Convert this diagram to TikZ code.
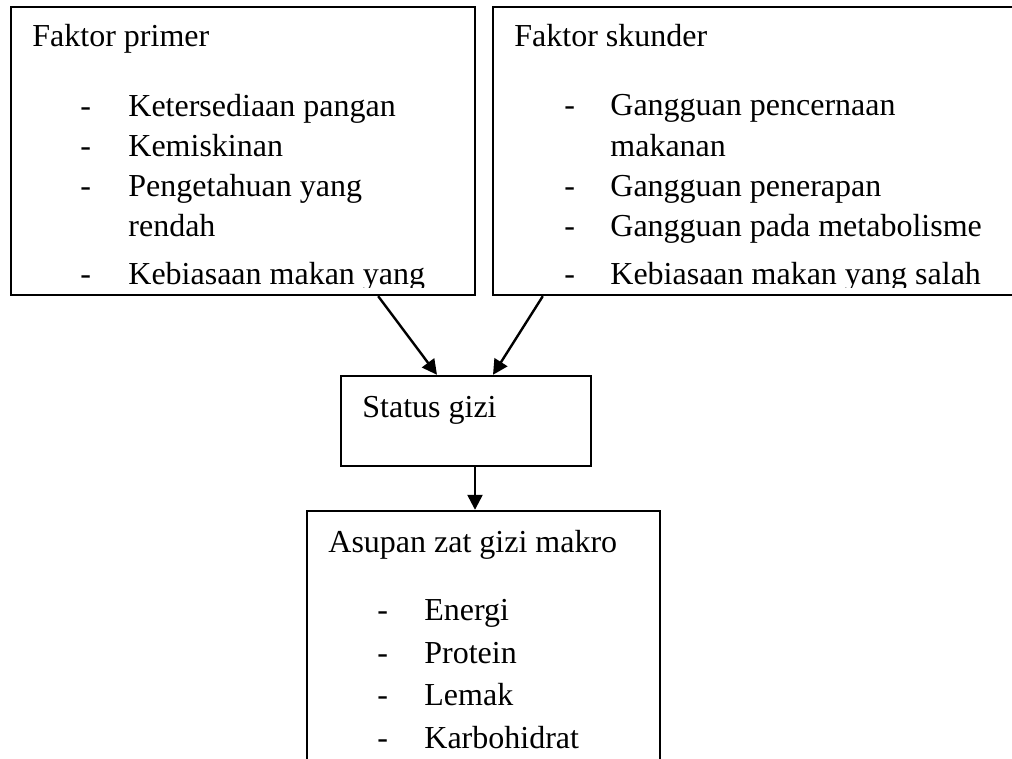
\documentclass[tikz,border=0pt]{standalone}
\usepackage{fontspec}
\setmainfont{Liberation Serif}
\usetikzlibrary{arrows.meta, positioning, calc}

\begin{document}
\begin{tikzpicture}[
    x=0.5pt, y=-0.5pt,
    font=\fontsize{16}{19}\selectfont,
    box/.style={draw, rectangle, line width=1.2pt, inner sep=0pt},
    txt/.style={anchor=base west, inner sep=0pt},
    arrow/.style={-{Triangle[length=7.5pt,width=7.5pt]}, line width=1.2pt}
]
\clip (0,0) rectangle (1012,759);

% Top row: factor boxes
\node[box, minimum width=232pt, minimum height=144pt] (primer) at (243,151) {};
\node[box, minimum width=273.5pt, minimum height=144pt] (skunder) at (766.5,151) {};

% Middle: nutritional status
\node[box, minimum width=125pt, minimum height=45pt] (status) at (466,421) {};

% Bottom: macro nutrient intake (runs past the page)
\node[box, minimum width=176.5pt, minimum height=144.5pt] (asupan) at (483.5,655.5) {};

% Texts of the top boxes, cut at their lower edge
\begin{scope}
\clip (primer.north west) rectangle ($(skunder.south east)+(0,-9)$);
\node[txt] (primerT) at (32,47) {Faktor primer};
\foreach \y/\item in {117/Ketersediaan pangan, 157/Kemiskinan, 197/Pengetahuan yang, 285/Kebiasaan makan yang}{
  \node[txt] at (80,\y) {-};
  \node[txt] at (128,\y) {\item};
}
\node[txt] (rendah) at (128,237) {rendah};

\node[txt] (skunderT) at (514,47) {Faktor skunder};
\foreach \y/\item in {116/Gangguan pencernaan, 197/Gangguan penerapan, 237/Gangguan pada metabolisme, 285/Kebiasaan makan yang salah}{
  \node[txt] at (564,\y) {-};
  \node[txt] at (610,\y) {\item};
}
\node[txt] (makanan) at (610,157) {makanan};
\end{scope}

\node[txt] (statusT) at (362,417) {Status gizi};

\node[txt] (asupanT) at (328,552) {Asupan zat gizi makro};
\foreach \y/\item in {620/Energi, 663/Protein, 705/Lemak, 748/Karbohidrat}{
  \node[txt] at (377,\y) {-};
  \node[txt] at (424,\y) {\item};
}

% Connections
\draw[arrow] ($(primer.south east)+(-98,0)$) -- ($(status.north)+(-29,0)$);
\draw[arrow] ($(skunder.south west)+(51,0)$) -- ($(status.north)+(27,0)$);
\draw[arrow] ($(status.south)+(9,0)$) -- ($(asupan.north)+(-8.5,0)$);

\end{tikzpicture}
\end{document}
